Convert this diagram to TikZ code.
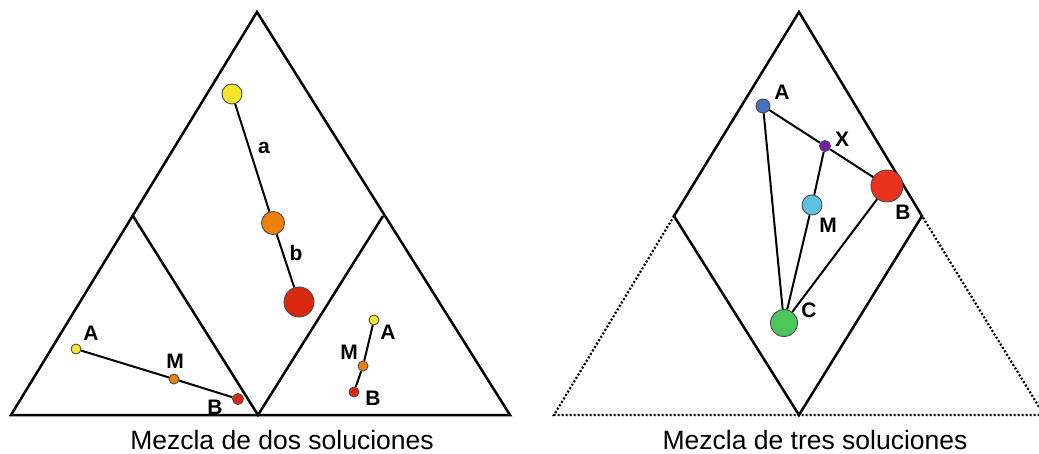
\documentclass[tikz,border=0pt]{standalone}
\usepackage{fontspec}
\setmainfont{Liberation Sans}
\definecolor{solyellow}{HTML}{F5E62B}
\definecolor{solorange}{HTML}{EE800C}
\definecolor{solred}{HTML}{D8290E}
\definecolor{solblue}{HTML}{4A6FBF}
\definecolor{solpurple}{HTML}{7A1AA8}
\definecolor{sollightblue}{HTML}{5CC3E6}
\definecolor{solgreen}{HTML}{4DC65C}
\definecolor{solbrightred}{HTML}{E8321C}
\begin{document}
\begin{tikzpicture}
[x=1pt,y=-1pt,
  sidedecorate/.style={-,line width=2.5pt,line join=miter},
  dotteddecorate/.style={-,line width=2.2pt,dash pattern=on 2pt off 2pt},
  linedecorate/.style={-,line width=2pt},
  pointdecorate/.style={shape=circle,inner sep=0pt,draw=black!70,line width=0.9pt},
  labeldecorate/.style={font=\fontsize{21}{25}\selectfont\bfseries},
  captiondecorate/.style={font=\fontsize{26.5}{30}\selectfont}]
\useasboundingbox (0,0) rectangle (1039,454);
%% vertices of the diagrams
\foreach \nodename/\x/\y in {top/257/12, bl/11/415, br/510/415, lmid/133/216,
  bmid/258/415, rmid/383/216, dtop/799/12, dleft/674/216, dbottom/799/415,
  dright/922/216, tbl/554/415, tbr/1044/415} {
  \coordinate (\nodename) at (\x,\y);
}
%% sides
\draw[sidedecorate] (top) -- (bl) -- (br) -- cycle;
\draw[sidedecorate] (lmid) -- (bmid) -- (rmid);
\draw[sidedecorate] (dtop) -- (dleft) -- (dbottom) -- (dright) -- cycle;
\draw[dotteddecorate] (dleft) -- (tbl) -- (tbr) -- (dright);
%% solutions
\foreach \nodename/\x/\y/\d/\col in {ya/232/94/20/solyellow,
  yb/273/223/23/solorange, yc/299/302/30/solred,
  la/76/349/10/solyellow, lm/174/379/10/solorange, lb/238/399/11/solred,
  ra/374/320/10/solyellow, rm/363/366/10/solorange, rb/354/392/10/solred,
  ta/763/106/14/solblue, tx/825/146/11/solpurple, tb/887/186/32/solbrightred,
  tm/812/205/20/sollightblue, tc/784/323/27/solgreen} {
  \node (\nodename) at (\x,\y) [pointdecorate,minimum size=\d pt,fill=\col] {};
}
%% mixing lines
\path
\foreach \startnode/\endnode in {ya/yb, yb/yc, la/lm, lm/lb, ra/rm, rm/rb,
  ta/tx, tx/tb, tx/tm, tm/tc, ta/tc, tb/tc} {
  (\startnode) edge[linedecorate] (\endnode)
};
%% labels
\foreach \nodename/\x/\y/\txt in {laba/264/148/a, labb/296/253/b,
  labla/91/333/A, lablm/175/361/M, lablb/215/407/B,
  labra/388/332/A, labrm/349/352/M, labrb/373/398/B,
  labta/782/92/A, labtx/842/139/X, labtb/903/212/B, labtm/828/225/M,
  labtc/809/310/C} {
  \node (\nodename) at (\x,\y) [labeldecorate] {\txt};
}
\node (capleft) at (282,440) [captiondecorate] {Mezcla de dos soluciones};
\node (capright) at (815,440) [captiondecorate] {Mezcla de tres soluciones};
\end{tikzpicture}
\end{document}
